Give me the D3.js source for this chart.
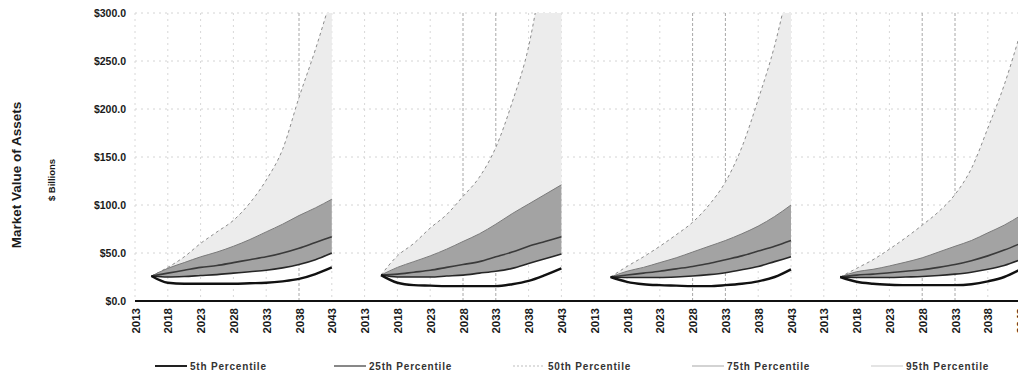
<!DOCTYPE html>
<html>
<head>
<meta charset="utf-8">
<script src="https://cdnjs.cloudflare.com/ajax/libs/d3/7.8.5/d3.min.js"></script>
<style>
  body { margin: 0; background: #fff; }
  svg { display: block; font-family: "Liberation Sans", Arial, sans-serif; }
</style>
</head>
<body>
<svg id="chart" width="1018" height="374"></svg>
<script>
// projection years (first point is the start of the projection)
const years = [2015.5, 2018, 2020.5, 2023, 2025.5, 2028, 2030.5, 2033, 2035.5, 2038, 2040.5, 2043];
const tickYears = [2013, 2018, 2023, 2028, 2033, 2038, 2043];
const yTicks = [0, 50, 100, 150, 200, 250, 300];

// $ billions, one row per panel
const p95 = [
  [26, 35, 46, 60, 72, 84, 102, 126, 158, 212, 262, 318],
  [27, 47, 60, 76, 90, 109, 129, 160, 207, 265, 360, 470],
  [25, 36, 46, 57, 69, 82, 100, 124, 160, 210, 266, 340],
  [25, 34, 43, 54, 66, 79, 93, 111, 138, 180, 225, 280]
];
const p75 = [
  [26, 34, 40, 46, 51, 57, 64, 72, 80, 89, 97, 106],
  [27, 35, 41, 47, 54, 62, 70, 80, 91, 101, 111, 121],
  [25, 31, 35, 40, 45, 51, 57, 63, 70, 78, 88, 100],
  [25, 30.5, 33, 36.5, 40.5, 45, 51, 57, 63, 71, 79, 89]
];
const p50 = [
  [26, 29, 32, 35, 37, 40, 43, 46, 50, 55, 61, 67],
  [27, 28, 30, 32, 35, 38, 41, 46, 51, 57, 62, 67],
  [25, 27, 29, 31, 33.5, 36, 39, 43, 47, 52, 57, 63],
  [25, 27, 28, 29.5, 31, 32.5, 35, 38, 42, 47, 53, 60]
];
const p25 = [
  [26, 25, 25.5, 26.5, 27.5, 29, 30.5, 32, 34.5, 38, 43, 50],
  [27, 25, 25, 25, 26, 27, 29, 31, 34, 39, 44, 49],
  [25, 24.5, 24.5, 24.5, 25, 26, 27.5, 29.5, 32.5, 36, 41, 46],
  [25, 24.5, 24.5, 24.5, 25, 25.5, 26.5, 28, 30, 33, 37, 43]
];
const p5 = [
  [26, 19, 18, 18, 18, 18, 18.5, 19, 20.5, 23, 28, 35],
  [27, 19, 16.5, 16, 15.5, 15.5, 15.5, 15.5, 17.5, 21, 27, 34],
  [25, 20, 17.5, 16.5, 16, 15.5, 15.5, 16.5, 18, 20.5, 25, 33],
  [25, 20, 18, 17, 16.5, 16.5, 16.5, 16.5, 17.5, 20.5, 25, 33]
];
const legendNames = ["5th Percentile", "25th Percentile", "50th Percentile", "75th Percentile", "95th Percentile"];

const panels = d3.range(4);
const span = 35; // years of axis per panel (30 + one gap step)
const pos = (p, yr) => p * span + (yr - 2013);

const svg = d3.select("#chart");
const W = 1018;
const plotLeft = 135, plotTop = 13, plotBottom = 301;

const x = d3.scaleLinear().domain([0, 27 * 5]).range([plotLeft, plotLeft + 27 * 32.8]);
const y = d3.scaleLinear().domain([0, 300]).range([plotBottom, plotTop]);

svg.append("clipPath").attr("id", "plot")
  .append("rect").attr("x", plotLeft).attr("y", plotTop)
  .attr("width", W - plotLeft).attr("height", plotBottom - plotTop);

// tick positions across all panels
const ticks = [];
panels.forEach(p => tickYears.forEach(t => ticks.push({ v: pos(p, t), label: t })));

// gridlines
const darkGrid = [5, 10, 11, 17, 18, 24, 25];
svg.append("g").selectAll("line").data(yTicks.filter(d => d > 0)).join("line")
  .attr("x1", plotLeft).attr("x2", W)
  .attr("y1", d => y(d)).attr("y2", d => y(d))
  .attr("stroke", "#d4d4d4").attr("stroke-width", 1).attr("stroke-dasharray", "2,4");
svg.append("g").selectAll("line").data(ticks).join("line")
  .attr("x1", d => x(d.v)).attr("x2", d => x(d.v))
  .attr("y1", plotTop).attr("y2", plotBottom)
  .attr("stroke", (d, i) => darkGrid.includes(i) ? "#a8a8a8" : "#d8d8d8")
  .attr("stroke-width", 1)
  .attr("stroke-dasharray", (d, i) => darkGrid.includes(i) ? "3,2" : "2,4");

// bands and lines
const g = svg.append("g").attr("clip-path", "url(#plot)");
const curve = d3.curveMonotoneX;

panels.forEach(p => {
  const rows = years.map((yr, i) => ({
    x: x(pos(p, yr)),
    v5: p5[p][i], v25: p25[p][i], v50: p50[p][i], v75: p75[p][i], v95: p95[p][i]
  }));
  const band = (lo, hi) => d3.area().curve(curve).x(d => d.x).y0(d => y(d[lo])).y1(d => y(d[hi]));
  const line = k => d3.line().curve(curve).x(d => d.x).y(d => y(d[k]));

  g.append("path").attr("d", band("v75", "v95")(rows)).attr("fill", "#ececec");
  g.append("path").attr("d", band("v25", "v75")(rows)).attr("fill", "#a3a3a3");

  g.append("path").attr("d", line("v95")(rows)).attr("fill", "none")
    .attr("stroke", "#8c8c8c").attr("stroke-width", 1).attr("stroke-dasharray", "3,3");
  g.append("path").attr("d", line("v75")(rows)).attr("fill", "none")
    .attr("stroke", "#7a7a7a").attr("stroke-width", 1);
  g.append("path").attr("d", line("v50")(rows)).attr("fill", "none")
    .attr("stroke", "#3a3a3a").attr("stroke-width", 1.6);
  g.append("path").attr("d", line("v25")(rows)).attr("fill", "none")
    .attr("stroke", "#262626").attr("stroke-width", 1.6);
  g.append("path").attr("d", line("v5")(rows)).attr("fill", "none")
    .attr("stroke", "#111").attr("stroke-width", 2.4);
});

// y axis labels
const yAxis = svg.append("g").attr("transform", `translate(${plotLeft},0)`)
  .call(d3.axisLeft(y).tickValues(yTicks).tickSize(0).tickPadding(9).tickFormat(d => "$" + d.toFixed(1)));
yAxis.select(".domain").remove();
yAxis.selectAll("text").attr("font-size", 10.5).attr("font-weight", "bold").attr("fill", "#1a1a1a")
  .attr("font-family", "'Liberation Sans', Arial, sans-serif");

// x axis
const xAxis = svg.append("g").attr("transform", `translate(0,${plotBottom})`)
  .call(d3.axisBottom(x).tickValues(ticks.map(d => d.v)).tickSize(0)
    .tickFormat((d, i) => ticks[i].label));
xAxis.select(".domain").remove();
xAxis.append("line").attr("x1", plotLeft).attr("x2", W).attr("y1", 0).attr("y2", 0)
  .attr("stroke", "#111").attr("stroke-width", 2);
xAxis.selectAll("text")
  .attr("transform", "rotate(-90)")
  .attr("x", -7).attr("y", 0).attr("dy", "0.36em")
  .attr("text-anchor", "end")
  .attr("font-size", 11.5).attr("font-weight", "bold").attr("fill", "#1a1a1a")
  .attr("font-family", "'Liberation Sans', Arial, sans-serif");

// axis titles
svg.append("text").attr("transform", "translate(21,175) rotate(-90)")
  .attr("text-anchor", "middle").attr("font-size", 13.5).attr("font-weight", "bold")
  .attr("fill", "#1a1a1a").text("Market Value of Assets");
svg.append("text").attr("transform", "translate(55,180) rotate(-90)")
  .attr("text-anchor", "middle").attr("font-size", 9.5).attr("font-weight", "bold")
  .attr("fill", "#1a1a1a").text("$ Billions");

// legend
const legendStyles = [
  { stroke: "#222", width: 2, dash: null },
  { stroke: "#111", width: 1, dash: null },
  { stroke: "#bdbdbd", width: 1, dash: "2,2" },
  { stroke: "#c4c4c4", width: 1.5, dash: null },
  { stroke: "#e4e4e4", width: 2, dash: null }
];
const lx = d3.scaleLinear().domain([0, 4]).range([155, 871]);
const ly = 366;
const leg = svg.append("g").selectAll("g").data(legendNames).join("g")
  .attr("transform", (d, i) => `translate(${lx(i)},${ly})`);
leg.append("line").attr("x1", 0).attr("x2", 32).attr("y1", 0).attr("y2", 0)
  .attr("stroke", (d, i) => legendStyles[i].stroke)
  .attr("stroke-width", (d, i) => legendStyles[i].width)
  .attr("stroke-dasharray", (d, i) => legendStyles[i].dash);
leg.append("text").attr("x", 35).attr("y", 0).attr("dy", "0.35em")
  .attr("font-size", 10).attr("font-weight", "bold").attr("letter-spacing", 0.8)
  .attr("fill", "#333").text(d => d);
</script>
</body>
</html>
